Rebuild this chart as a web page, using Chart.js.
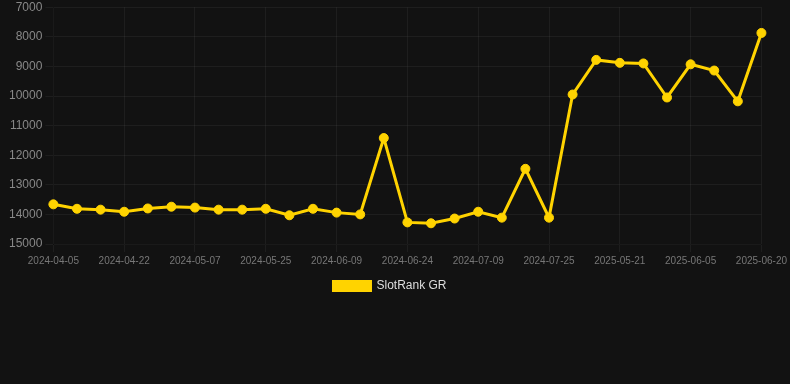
<!DOCTYPE html>
<html>
<head>
<meta charset="utf-8">
<script src="https://cdn.jsdelivr.net/npm/chart.js@4"></script>
<style>
  html, body { margin: 0; padding: 0; background: #121212; }
  #wrap { width: 790px; height: 302px; }
</style>
</head>
<body>
<div id="wrap"><canvas id="chart"></canvas></div>
<script>
const dates = [
  '2024-04-05', '2024-04-11', '2024-04-16', '2024-04-22', '2024-04-27', '2024-05-02',
  '2024-05-07', '2024-05-13', '2024-05-19', '2024-05-25', '2024-05-30', '2024-06-04',
  '2024-06-09', '2024-06-14', '2024-06-19', '2024-06-24', '2024-06-29', '2024-07-04',
  '2024-07-09', '2024-07-14', '2024-07-20', '2024-07-25', '2025-05-11', '2025-05-16',
  '2025-05-21', '2025-05-26', '2025-05-31', '2025-06-05', '2025-06-10', '2025-06-15',
  '2025-06-20'
];
const ranks = [
  13660, 13810, 13840, 13910, 13800, 13740,
  13770, 13840, 13840, 13810, 14030, 13810,
  13940, 14000, 11420, 14270, 14300, 14140,
  13910, 14110, 12460, 14110, 9950, 8780,
  8880, 8900, 10050, 8930, 9140, 10180,
  7870
];
const yTicks = [7000, 8000, 9000, 10000, 11000, 12000, 13000, 14000, 15000];

// nudge the centred legend a little left, as in the original
const legendShift = {
  id: 'legendShift',
  afterUpdate(chart) {
    if (chart.legend) { chart.legend.left -= 8; chart.legend.right -= 8; }
  }
};

document.addEventListener('DOMContentLoaded', function() {
  const ctx = document.getElementById('chart').getContext('2d');
  new Chart(ctx, {
    type: 'line',
    data: {
      labels: dates,
      datasets: [{
        label: 'SlotRank GR',
        data: ranks,
        borderColor: '#FFD300',
        backgroundColor: '#FFD300',
        borderWidth: 3,
        pointRadius: 4.5,
        pointBorderWidth: 1,
        pointHoverRadius: 6,
        tension: 0
      }]
    },
    options: {
      responsive: true,
      maintainAspectRatio: false,
      animation: false,
      layout: { padding: { left: 6 } },
      scales: {
        x: {
          grid: {
            color: function(c) { return c.index % 3 === 0 ? 'rgba(255,255,255,0.05)' : 'rgba(0,0,0,0)'; }
          },
          ticks: {
            color: '#777',
            font: { family: 'Liberation Sans', size: 10 },
            maxRotation: 0,
            autoSkip: false,
            callback: function(v, i) { return i % 3 === 0 ? dates[i] : ''; }
          }
        },
        y: {
          reverse: true,
          min: yTicks[0],
          max: yTicks[yTicks.length - 1],
          grid: { color: 'rgba(255,255,255,0.05)' },
          afterBuildTicks: function(axis) { axis.ticks = yTicks.map(v => ({ value: v })); },
          ticks: {
            color: '#888',
            font: { family: 'Liberation Sans', size: 12, lineHeight: 0.7 },
            callback: function(v) { return String(v); }
          }
        }
      },
      plugins: {
        legend: {
          position: 'bottom',
          labels: {
            color: '#ddd',
            boxWidth: 37,
            boxHeight: 9,
            font: { family: 'Liberation Sans', size: 12 }
          }
        },
        tooltip: { enabled: false }
      }
    },
    plugins: [legendShift]
  });
});
</script>
</body>
</html>
